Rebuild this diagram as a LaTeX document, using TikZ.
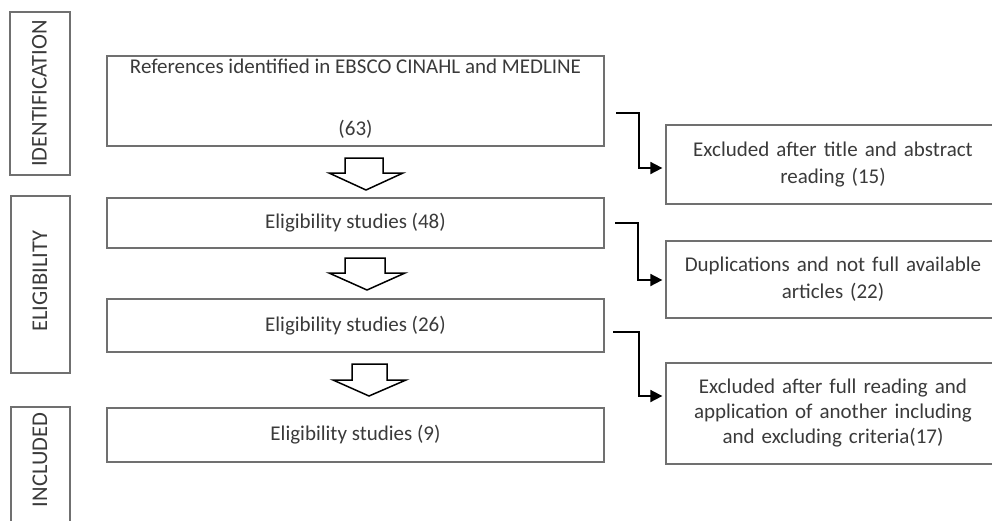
\documentclass[tikz,border=0pt]{standalone}
\usepackage{fontspec}
\setmainfont{Carlito}
\usetikzlibrary{arrows.meta,positioning}
\definecolor{txt}{HTML}{3A3A3A}
\definecolor{bord}{HTML}{707070}
\tikzset{
  box/.style={draw=bord, line width=1.3pt, rectangle, align=center, text=txt, inner sep=0pt,
     font=\fontsize{21}{27}\selectfont},
  stagebox/.style={draw=bord, line width=1.3pt, rectangle, text=txt, inner sep=0pt},
  stagetext/.style={text=txt, rotate=90, font=\fontsize{22.5}{26}\selectfont},
  conn/.style={draw=black, line width=1.8pt, shorten >=3pt, -{Triangle[length=12pt,width=12pt]}},
  hollow/.style={draw=black, line width=1.5pt, fill=white, line join=miter},
}
\begin{document}
\begin{tikzpicture}[x=1pt,y=-1pt]
\useasboundingbox (0,0) rectangle (992,520);
% stage boxes
\node[stagebox, minimum width=60pt, minimum height=163pt] (id) at (40,93.5) {};
\node[stagetext] (idt) at (39.5,93.5) {IDENTIFICATION};
\node[stagebox, minimum width=59pt, minimum height=177pt] (el) at (40.5,284.5) {};
\node[stagetext] (elt) at (40,281) {ELIGIBILITY};
\node[stagebox, minimum width=59pt, minimum height=116pt] (inc) at (40.5,465) {};
\node[stagetext] (inct) at (40,460) {INCLUDED};
% main boxes
\node[box, minimum width=497pt, minimum height=90pt] (b1) at (355.5,101) {};
\node[text=txt, font=\fontsize{21}{27}\selectfont] (b1a) at (355.5,66) {References identified in EBSCO CINAHL and MEDLINE};
\node[text=txt, font=\fontsize{21}{27}\selectfont] (b1b) at (355.5,129) {(63)};
\node[box, minimum width=497pt, minimum height=50pt] (b2) at (355.5,223) {Eligibility studies (48)};
\node[box, minimum width=497pt, minimum height=53pt] (b3) at (355.5,325.5) {Eligibility studies (26)};
\node[box, minimum width=497pt, minimum height=54pt] (b4) at (355.5,435) {Eligibility studies (9)};
% right boxes
\node[box, minimum width=334pt, minimum height=79pt, text width=320pt] (r1) at (833,164.5) {Excluded after title and abstract\\reading (15)};
\node[box, minimum width=334pt, minimum height=77pt, text width=320pt] (r2) at (833,279.5) {Duplications and not full available\\articles (22)};
\node[box, minimum width=334pt, minimum height=101pt, text width=320pt, font=\fontsize{21}{25}\selectfont] (r3) at (833,413.5) {Excluded after full reading and\\application of another including\\and excluding criteria(17)};
% hollow arrows
\draw[hollow] (345,158) -- (383,158) -- (383,173) -- (403,173) -- (366,190) -- (329,173) -- (345,173) -- cycle;
\draw[hollow] (345,258) -- (385,258) -- (385,273) -- (405,273) -- (367,290) -- (329,273) -- (345,273) -- cycle;
\draw[hollow] (352,364) -- (387,364) -- (387,380) -- (406,380) -- (369,396) -- (333,380) -- (352,380) -- cycle;
% connectors
\coordinate (s1) at (616,113);
\coordinate (s2) at (615,223);
\coordinate (s3) at (613,332);
\draw[conn] (s1) -- (639,113) |- (r1.west |- 0,168);
\draw[conn] (s2) -- (638,223) |- (r2.west |- 0,280);
\draw[conn] (s3) -- (639,332) |- (r3.west |- 0,396);
\end{tikzpicture}
\end{document}
